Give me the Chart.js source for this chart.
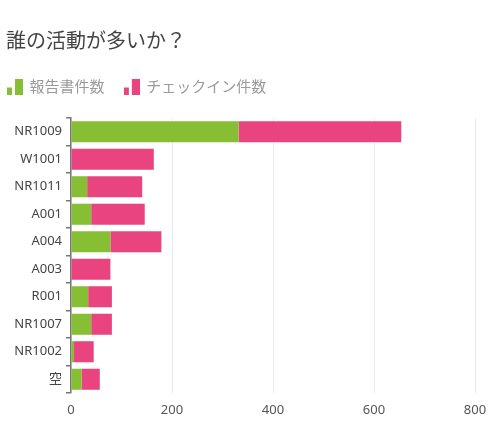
<!DOCTYPE html>
<html>
<head>
<meta charset="utf-8">
<script src="https://cdn.jsdelivr.net/npm/chart.js@4/dist/chart.umd.min.js"></script>
<style>
  body { margin: 0; background: #fff; }
  #wrap { width: 499px; height: 429px; }
</style>
</head>
<body>
<div id="wrap"><canvas id="myChart" width="499" height="429"></canvas></div>
<script>
var categories = ['NR1009', 'W1001', 'NR1011', 'A001', 'A004', 'A003', 'R001', 'NR1007', 'NR1002', '空'];
var reportCounts = [332, 0, 32, 40, 78, 0, 34, 40, 6, 21];
var checkinCounts = [322, 164, 109, 106, 101, 78, 47, 41, 39, 36];
var xTicks = [0, 200, 400, 600, 800];

var green = '#86bf33';
var pink = '#ea4480';
var jp = "'Noto Sans CJK JP', sans-serif";
var latin = "'Noto Sans', 'Noto Sans CJK JP', sans-serif";

// small bar-chart icon used as the legend marker
function legendIcon(color) {
  var c = document.createElement('canvas');
  c.width = 16; c.height = 16;
  var ctx = c.getContext('2d');
  ctx.fillStyle = color;
  ctx.fillRect(0, 9, 5, 7);
  ctx.fillRect(8, 0, 8, 16);
  return c;
}

// extra room below the legend
var legendGap = {
  id: 'legendGap',
  beforeInit: function (chart) {
    var fit = chart.legend.fit;
    chart.legend.fit = function () {
      fit.bind(chart.legend)();
      this.height += 14;
    };
  }
};

window.onload = function () {
  new Chart(document.getElementById('myChart'), {
    type: 'bar',
    data: {
      labels: categories,
      datasets: [
        { label: '報告書件数', data: reportCounts, backgroundColor: green, pointStyle: legendIcon(green) },
        { label: 'チェックイン件数', data: checkinCounts, backgroundColor: pink, pointStyle: legendIcon(pink) }
      ]
    },
    options: {
      indexAxis: 'y',
      responsive: false,
      animation: false,
      categoryPercentage: 0.85,
      barPercentage: 0.9,
      layout: { padding: { left: 6, right: 24, top: 0, bottom: 0 } },
      plugins: {
        title: {
          display: true,
          text: '誰の活動が多いか？',
          align: 'start',
          color: '#444',
          font: { family: jp, size: 20, weight: 'normal' },
          padding: { top: 28, bottom: 25 }
        },
        legend: {
          align: 'start',
          labels: {
            usePointStyle: true,
            pointStyleWidth: 14,
            padding: 2,
            color: '#9a9a9a',
            font: { family: jp, size: 15 },
            generateLabels: function (chart) {
              var items = Chart.defaults.plugins.legend.labels.generateLabels(chart);
              items[0].text = items[0].text + '\u3000 ';
              return items;
            }
          }
        },
        tooltip: { enabled: false }
      },
      scales: {
        x: {
          stacked: true,
          min: 0,
          max: 800,
          afterBuildTicks: function (axis) {
            axis.ticks = xTicks.map(function (v) { return { value: v }; });
          },
          afterFit: function (axis) { axis.height = 36; },
          grid: { color: '#ebebeb', drawTicks: false },
          border: { display: false },
          ticks: { color: '#555', padding: 9, font: { family: latin, size: 13 } }
        },
        y: {
          stacked: true,
          afterFit: function (axis) { axis.width = 65; },
          grid: { drawOnChartArea: false, tickLength: 5, color: '#777', lineWidth: 1.5 },
          border: { color: '#777', width: 1.5 },
          ticks: { color: '#444', padding: 4, font: { family: latin, size: 13 } }
        }
      }
    },
    plugins: [legendGap]
  });
};
</script>
</body>
</html>
